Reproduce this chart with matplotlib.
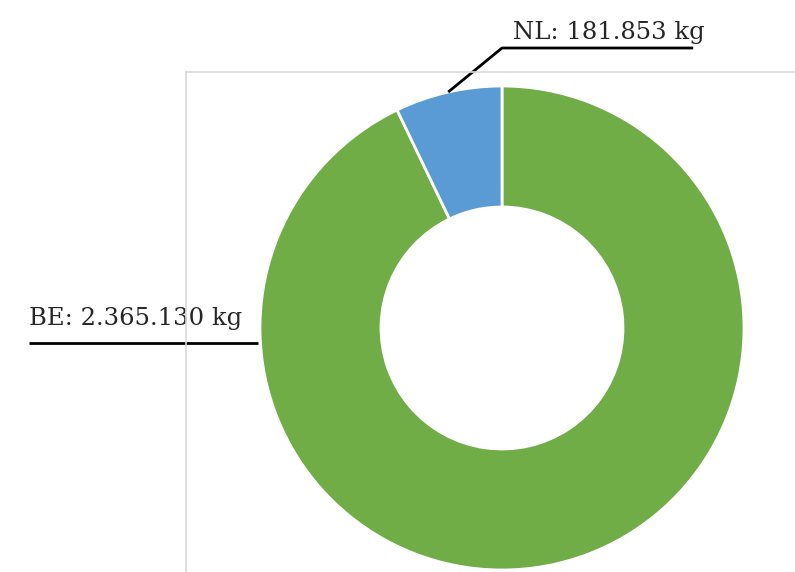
import matplotlib

matplotlib.use("Agg")
import matplotlib.pyplot as plt
import numpy as np
from matplotlib.lines import Line2D

# data
countries = ["BE", "NL"]
weights_kg = [2365130, 181853]
colors = ["#70ad47", "#5b9bd5"]
label_texts = ["BE: 2.365.130 kg", "NL: 181.853 kg"]

W, H = 795, 572
CX, CY, R = 502, 328, 242  # donut centre and radius in pixels


def fmt(x_px, y_px):
    return x_px / W, 1 - y_px / H


fig = plt.figure(figsize=(W / 100, H / 100), dpi=100)

# light grey frame round the chart area
for xs, ys in [((186, W + 5), (72, 72)), ((186, 186), (72, H + 5))]:
    (x0, y0), (x1, y1) = fmt(xs[0], ys[0]), fmt(xs[1], ys[1])
    fig.add_artist(Line2D([x0, x1], [y0, y1], transform=fig.transFigure,
                          color="#d9d9d9", lw=1.2))

ax = fig.add_axes([(CX - R) / W, (H - CY - R) / H, 2 * R / W, 2 * R / H])
wedges, _ = ax.pie(
    weights_kg,
    colors=colors,
    startangle=90,
    counterclock=False,
    radius=1,
    wedgeprops={"width": 0.5, "edgecolor": "white", "linewidth": 2},
)
ax.set_xlim(-1, 1)
ax.set_ylim(-1, 1)
ax.set_aspect("equal")
ax.axis("off")

font = {"family": "DejaVu Serif", "size": 17.5, "color": "#262626"}

# NL label: leader from the middle of the wedge, elbow, then underline
nl = wedges[1]
ang = np.deg2rad((nl.theta1 + nl.theta2) / 2)
sx, sy = np.cos(ang), np.sin(ang)
ax.plot([sx, 0.0, 0.79], [sy, 1.157, 1.157], color="black", lw=2,
        clip_on=False, solid_capstyle="butt")
ax.text(0.045, 1.195, label_texts[1], ha="left", va="baseline", **font)

# BE label: underline at the left of the ring
ax.plot([-1.955, -1.008], [-0.062, -0.062], color="black", lw=2,
        clip_on=False, solid_capstyle="butt")
ax.text(-1.955, 0.012, label_texts[0], ha="left", va="baseline", **font)

fig.savefig("out.png", dpi=100)
plt.close(fig)
